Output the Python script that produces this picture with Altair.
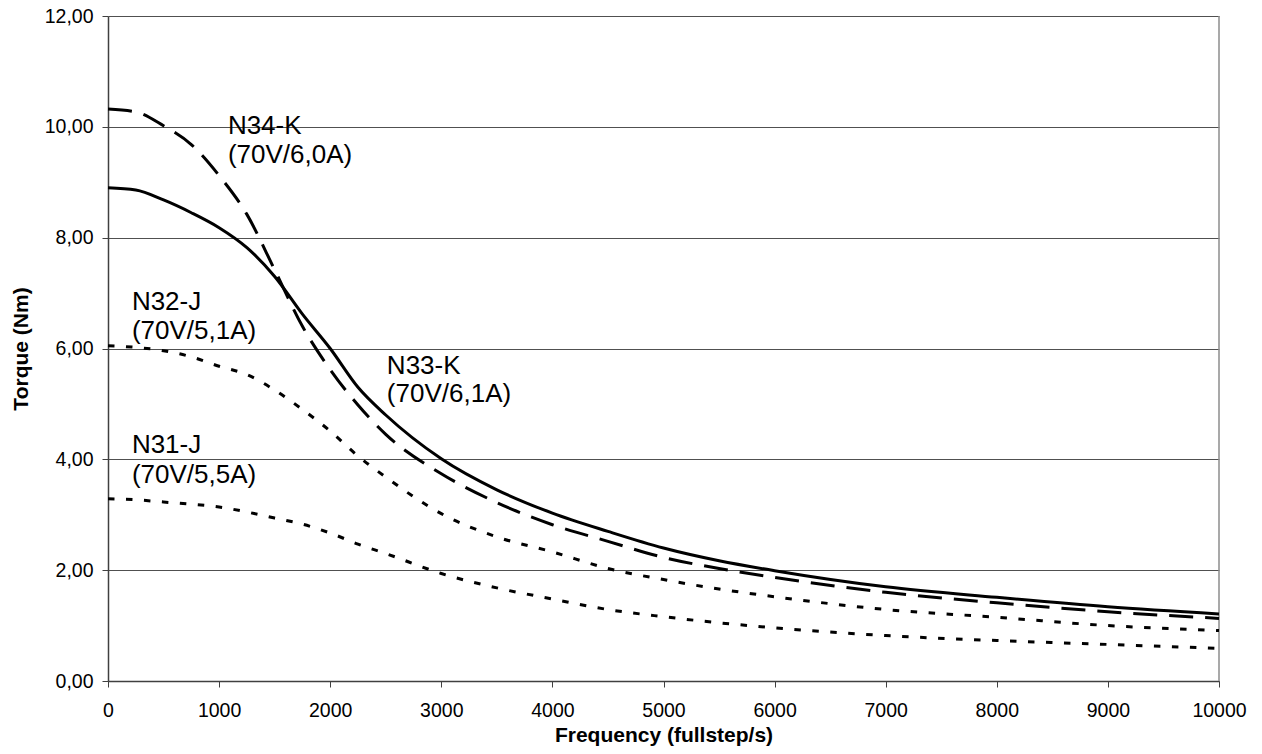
import altair as alt
import pandas as pd

freq = [0, 250, 500, 750, 1000, 1250, 1500, 1750, 2000, 2250, 2500, 3000, 3500,
        4000, 4500, 5000, 5500, 6000, 7000, 8000, 9000, 10000]

n33_k = [8.90, 8.86, 8.68, 8.45, 8.18, 7.82, 7.30, 6.62, 6.00, 5.30, 4.80, 4.01, 3.45,
         3.03, 2.70, 2.40, 2.17, 1.99, 1.70, 1.51, 1.34, 1.21]
n34_k = [10.32, 10.27, 10.02, 9.68, 9.12, 8.42, 7.42, 6.40, 5.62, 4.98, 4.45, 3.74, 3.22,
         2.82, 2.52, 2.23, 2.03, 1.87, 1.60, 1.41, 1.25, 1.13]
n32_j = [6.05, 6.02, 5.96, 5.85, 5.68, 5.53, 5.25, 4.90, 4.51, 4.06, 3.68, 3.02, 2.60,
         2.33, 2.03, 1.83, 1.66, 1.52, 1.29, 1.15, 1.00, 0.91]
n31_j = [3.29, 3.27, 3.23, 3.19, 3.14, 3.05, 2.94, 2.83, 2.67, 2.47, 2.30, 1.94, 1.68,
         1.48, 1.29, 1.16, 1.05, 0.96, 0.82, 0.73, 0.66, 0.59]

label_text = ["N34-K", "(70V/6,0A)", "N33-K", "(70V/6,1A)",
              "N32-J", "(70V/5,1A)", "N31-J", "(70V/5,5A)"]
label_x = [1079, 1079, 2510, 2510, 215, 215, 215, 215]
label_y = [9.87, 9.34, 5.54, 5.04, 6.69, 6.17, 4.11, 3.58]

x_ticks = list(range(0, 10001, 1000))
y_ticks = [0, 2, 4, 6, 8, 10, 12]

FONT = "Liberation Sans"

series = [
    ("N33-K", n33_k, []),
    ("N34-K", n34_k, [24, 12]),
    ("N32-J", n32_j, [6.5, 11.5]),
    ("N31-J", n31_j, [6.5, 11.5]),
]

xscale = alt.Scale(domain=[0, 10000], nice=False, zero=False)
yscale = alt.Scale(domain=[0, 12], nice=False)

x_axis = alt.Axis(values=x_ticks, grid=False, title="Frequency (fullstep/s)",
                  format="d",
                  labelFontSize=19.5, labelFont=FONT, labelColor="#000",
                  labelPadding=14, tickSize=6, tickColor="#404040",
                  domainColor="#404040", domainWidth=1.5, labelFlush=False,
                  titleFont=FONT, titleFontSize=21, titleFontWeight="bold",
                  titleColor="#000", titleX=555.5, titleY=60,
                  titleBaseline="alphabetic")
y_axis = alt.Axis(values=y_ticks, grid=True, gridColor="#505050", gridWidth=1,
                  title="Torque (Nm)",
                  labelExpr="replace(format(datum.value, '.2f'), '.', ',')",
                  labelFontSize=19.5, labelFont=FONT, labelColor="#000",
                  labelPadding=9, tickSize=6, tickColor="#404040",
                  domainColor="#404040", domainWidth=1.5,
                  titleFont=FONT, titleFontSize=21, titleFontWeight="bold",
                  titleColor="#000", titleX=-87, titleY=332.5,
                  titleBaseline="middle", titleAlign="center")

rows = []
for name, vals, dash in series:
    for f, v in zip(freq, vals):
        rows.append({"freq": f, "torque": v, "series": name})
data = pd.DataFrame(rows)

layers = []
for name, vals, dash in series:
    mk = {"color": "black", "strokeWidth": 3, "interpolate": "monotone",
          "strokeCap": "butt"}
    if dash:
        mk["strokeDash"] = dash
    layers.append(
        alt.Chart(data).transform_filter(alt.datum.series == name)
        .mark_line(**mk)
        .encode(x=alt.X("freq:Q", scale=xscale, axis=x_axis),
                y=alt.Y("torque:Q", scale=yscale, axis=y_axis))
    )

border = alt.Chart(pd.DataFrame({"freq": [10000], "top": [12], "bot": [0]})).mark_rule(
    color="#8c8c8c", strokeWidth=1.5
).encode(x=alt.X("freq:Q", scale=xscale, axis=x_axis),
         y=alt.Y("bot:Q", scale=yscale, axis=y_axis), y2="top:Q")

labels = alt.Chart(pd.DataFrame({"t": label_text, "x": label_x, "y": label_y})).mark_text(
    font=FONT, fontSize=26, align="left", baseline="alphabetic", color="#000"
).encode(x=alt.X("x:Q", scale=xscale, axis=x_axis),
         y=alt.Y("y:Q", scale=yscale, axis=y_axis), text="t:N")

chart = alt.layer(border, *layers, labels).properties(
    width=1111, height=665,
    autosize=alt.AutoSizeParams(type="none"),
    padding={"left": 100, "top": 8, "right": 35, "bottom": 65},
    background="white",
).configure_view(strokeWidth=0)

chart.save("out.html", embed_options={"renderer": "svg", "actions": False})
